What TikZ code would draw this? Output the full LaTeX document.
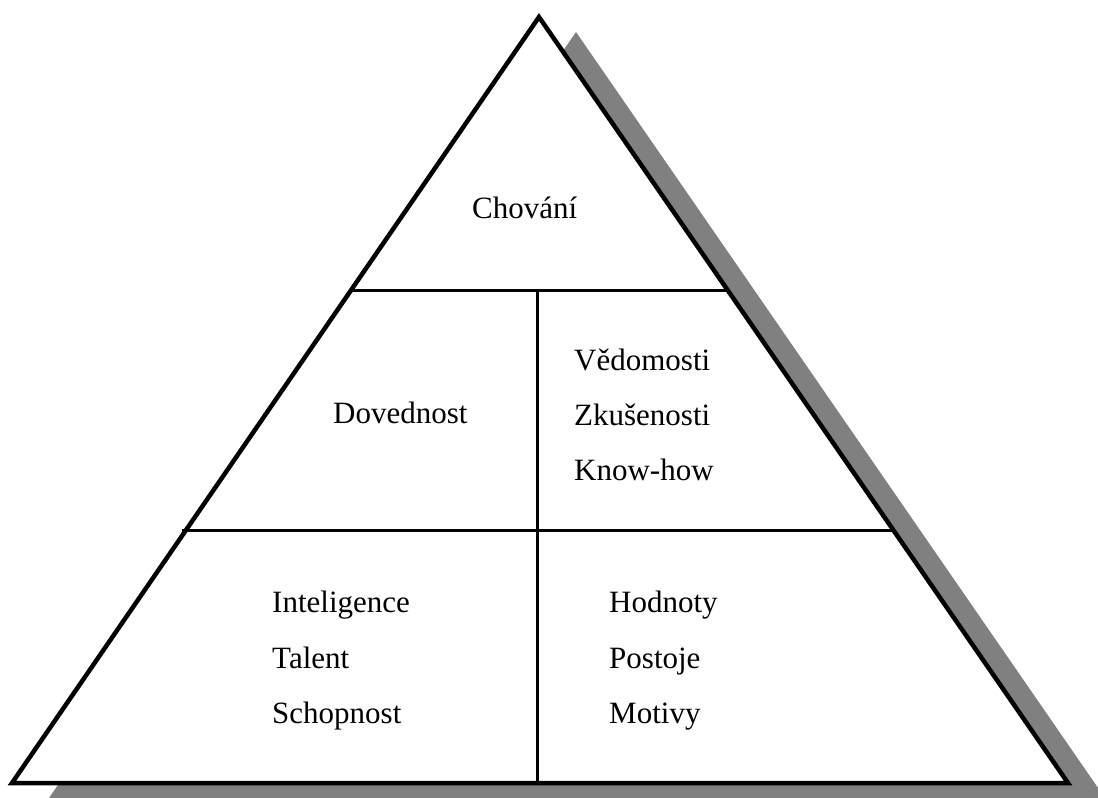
\documentclass[tikz,border=0pt]{standalone}
\usepackage{fontspec}
\setmainfont{Liberation Serif}
\begin{document}
\begin{tikzpicture}[x=1pt,y=-1pt,
  lbl/.style={anchor=base west,inner sep=0pt,font=\fontsize{31}{37}\selectfont},
  outline/.style={line width=4.5pt,line join=miter},
  divider/.style={line width=3pt}]
\useasboundingbox (0,0) rectangle (1098,798);
% corners
\coordinate (apex) at (539,17);
\coordinate (bl) at (12,783);
\coordinate (br) at (1068,783);
% shadow
\fill[fill={rgb,255:red,128;green,128;blue,128}] ([shift={(37,15)}]apex) -- ([shift={(37,15)}]bl) -- ([shift={(37,15)}]br) -- cycle;
% triangle
\filldraw[fill=white,outline] (apex) -- (bl) -- (br) -- cycle;
% dividers
\coordinate (h1l) at (352,290);
\coordinate (h1r) at (730,290);
\coordinate (h2l) at (182,530);
\coordinate (h2r) at (894,530);
\coordinate (vt) at (537,290);
\coordinate (vb) at (537,783);
\draw[divider] (h1l) -- (h1r);
\draw[divider] (h2l) -- (h2r);
\draw[divider] (vt) -- (vb);
% labels
\node[lbl] (chovani) at (472,218) {Chování};
\node[lbl] (dovednost) at (333,423) {Dovednost};
\node[lbl] (vedomosti) at (574,370) {Vědomosti};
\node[lbl] (zkusenosti) at (574,425) {Zkušenosti};
\node[lbl] (knowhow) at (574,480) {Know-how};
\node[lbl] (inteligence) at (272,612) {Inteligence};
\node[lbl] (talent) at (272,668) {Talent};
\node[lbl] (schopnost) at (272,723) {Schopnost};
\node[lbl] (hodnoty) at (609,612) {Hodnoty};
\node[lbl] (postoje) at (609,668) {Postoje};
\node[lbl] (motivy) at (609,723) {Motivy};
\end{tikzpicture}
\end{document}
